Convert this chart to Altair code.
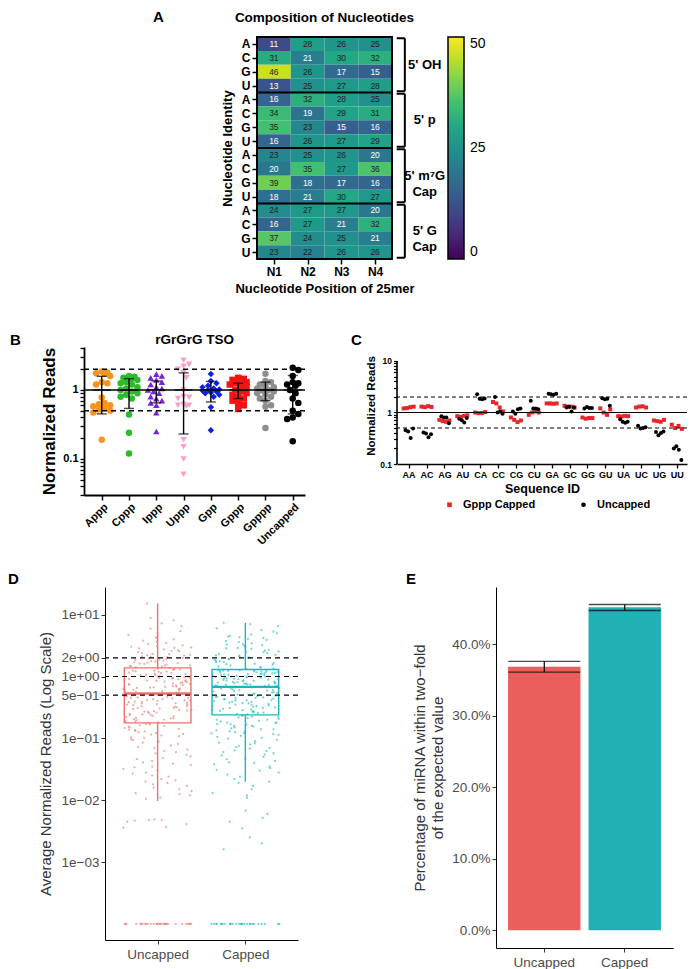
import json
import math
import altair as alt
import pandas as pd

FONT = "Liberation Sans"

# ---------------- Panel A data ----------------
A_GROUPS = ["5' OH", "5' p", "5' m⁷G\nCap", "5' G\nCap"]
A_NUCS = ["A", "C", "G", "U"]
A_POS = ["N1", "N2", "N3", "N4"]
A_OH = [[11, 28, 26, 25], [31, 21, 30, 32], [46, 26, 17, 15], [13, 25, 27, 28]]
A_P = [[16, 32, 28, 25], [34, 19, 29, 31], [35, 23, 15, 16], [16, 26, 27, 29]]
A_M7G = [[23, 25, 26, 20], [20, 35, 27, 36], [39, 18, 17, 16], [18, 21, 30, 27]]
A_GCAP = [[24, 27, 27, 20], [16, 27, 21, 32], [37, 24, 25, 21], [23, 22, 26, 26]]
A_COLOR_DOMAIN = [0, 50]
A_LEGEND_VALUES = [0, 25, 50]

# ---------------- Panel B data ----------------
B_GROUPS = ["Appp", "Cppp", "Ippp", "Uppp", "Gpp", "Gppp", "Gpppp", "Uncapped"]
B_APPP = [1.85, 1.8, 1.75, 1.72, 1.6, 1.3, 1.25, 1.2, 0.78, 0.65, 0.62, 0.6, 0.58, 0.55, 0.52, 0.5, 0.47, 0.19]
B_CPPP = [1.6, 1.55, 1.5, 1.45, 1.4, 1.3, 1.25, 1.2, 1.1, 1.05, 1.0, 0.95, 0.9, 0.85, 0.8, 0.75, 0.44, 0.24, 0.12]
B_IPPP = [1.7, 1.6, 1.5, 1.4, 1.3, 1.2, 1.1, 1.05, 1.0, 0.95, 0.9, 0.8, 0.75, 0.7, 0.65, 0.6, 0.47, 0.25]
B_UPPP = [2.7, 2.35, 2.2, 2.0, 1.8, 1.5, 1.0, 0.8, 0.78, 0.75, 0.62, 0.6, 0.6, 0.58, 0.19, 0.15, 0.1, 0.06]
B_GPP = [1.7, 1.35, 1.25, 1.15, 1.1, 1.05, 1.02, 1.0, 0.98, 0.95, 0.92, 0.9, 0.85, 0.8, 0.56, 0.26]
B_GPPP = [1.5, 1.45, 1.4, 1.35, 1.3, 1.25, 1.2, 1.15, 1.1, 1.0, 0.95, 0.9, 0.85, 0.8, 0.75, 0.7, 0.65, 0.6, 0.53]
B_GPPPP = [1.72, 1.35, 1.3, 1.2, 1.15, 1.1, 1.05, 1.0, 0.98, 0.95, 0.9, 0.85, 0.8, 0.75, 0.7, 0.6, 0.57, 0.28]
B_UNCAP = [2.1, 1.95, 1.6, 1.3, 1.25, 1.2, 1.15, 1.0, 0.9, 0.75, 0.65, 0.5, 0.45, 0.4, 0.38, 0.18]
B_VALUES = [B_APPP, B_CPPP, B_IPPP, B_UPPP, B_GPP, B_GPPP, B_GPPPP, B_UNCAP]
B_MEAN = [1.0, 1.0, 1.0, 1.0, 1.0, 1.0, 1.0, 1.0]
B_LO = [0.45, 0.54, 0.65, 0.23, 0.67, 0.75, 0.7, 0.45]
B_HI = [1.58, 1.46, 1.35, 1.77, 1.33, 1.25, 1.3, 1.62]
B_COLORS = ["#F7941D", "#2DB92D", "#7B22D6", "#F4A3CB", "#0A22E6", "#F01414", "#8E8E8E", "#000000"]
B_SHAPES = ["circle", "circle", "triangle-up", "triangle-down", "diamond", "square", "circle", "circle"]
B_REF_SOLID = [1]
B_REF_DASH = [0.5, 2]
B_YTICKS = [0.03, 0.04, 0.05, 0.06, 0.07, 0.08, 0.09, 0.1, 0.2, 0.3, 0.4, 0.5, 0.6, 0.7, 0.8, 0.9, 1, 2, 3, 4]

# ---------------- Panel C data ----------------
C_SEQS = ["AA", "AC", "AG", "AU", "CA", "CC", "CG", "CU", "GA", "GC", "GG", "GU", "UA", "UC", "UG", "UU"]
C_CAPPED = [[1.2, 1.22, 1.27, 1.3], [1.3, 1.27, 1.33, 1.28], [0.72, 0.68, 0.66, 0.7], [0.85, 0.82, 0.86, 0.88],
            [1.0, 0.97, 0.98, 1.02], [1.6, 1.5, 1.25, 1.05], [0.8, 0.72, 0.65, 0.7], [0.9, 1.0, 1.05, 1.0],
            [1.5, 1.5, 1.48, 1.5], [1.35, 1.3, 1.3, 1.25], [0.8, 0.76, 0.78, 0.78], [1.2, 1.0, 0.9, 1.15],
            [0.85, 0.84, 0.86, 0.85], [1.25, 1.3, 1.32, 1.25], [0.7, 0.68, 0.66, 0.72], [0.58, 0.5, 0.55, 0.48]]
C_UNCAPPED = [[0.45, 0.43, 0.32, 0.49], [0.41, 0.39, 0.33, 0.38], [0.85, 0.8, 0.8, 0.62], [0.76, 0.71, 0.64, 0.78],
              [2.25, 1.85, 1.8, 1.87], [2.0, 1.0, 1.05, 0.95], [1.05, 0.95, 1.15, 1.2], [1.7, 1.2, 1.2, 1.15],
              [2.3, 2.25, 2.2, 2.3], [1.25, 1.3, 1.05, 1.25], [1.2, 1.28, 1.22, 1.22], [1.9, 1.8, 1.85, 1.35],
              [0.74, 0.66, 0.63, 0.66], [0.55, 0.49, 0.5, 0.52], [0.42, 0.36, 0.4, 0.43], [0.2, 0.22, 0.19, 0.12]]
C_SERIES = ["Gppp Capped", "Uncapped"]
C_COLORS = ["#E8262A", "#000000"]
C_SHAPES = ["square", "circle"]
C_REF_SOLID = [1]
C_REF_DASH = [0.5, 2]
C_YTICKS = [0.1, 0.2, 0.3, 0.4, 0.5, 0.6, 0.7, 0.8, 0.9, 1, 2, 3, 4, 5, 6, 7, 8, 9, 10]

# ---------------- Panel D data ----------------
D_GROUPS = ["Uncapped", "Capped"]
D_COLORS = ["#F0716B", "#13B9BC"]
D_Q1 = [0.178, 0.24]
D_MED = [0.53, 0.68]
D_Q3 = [1.38, 1.30]
D_LO = [0.0097, 0.020]
D_HI = [15.2, 7.4]
D_ZERO_VALUE = 0.0001
D_ZERO_COUNT = [30, 28]
D_UNCAPPED = [
    0.0036, 0.0041, 0.0045, 0.0048, 0.0048, 0.0049, 0.0037, 0.0047,
    0.0105, 0.011, 0.012, 0.0125, 0.013, 0.014, 0.015, 0.016, 0.017, 0.018, 0.019, 0.02, 0.021, 0.022,
    0.024, 0.025, 0.027, 0.028, 0.03, 0.032, 0.034, 0.035, 0.037, 0.039, 0.041, 0.043, 0.046, 0.048,
    0.051, 0.054, 0.057, 0.06, 0.063, 0.066, 0.07, 0.073, 0.077, 0.081, 0.085, 0.089, 0.093, 0.097,
    0.101, 0.104, 0.108, 0.111, 0.115, 0.118, 0.122, 0.125, 0.129, 0.132, 0.136, 0.139, 0.143, 0.147,
    0.151, 0.155, 0.159, 0.163, 0.167, 0.171, 0.175,
    0.181, 0.186, 0.19, 0.195, 0.2, 0.205, 0.21, 0.215, 0.22, 0.226, 0.232, 0.238, 0.244, 0.25, 0.256,
    0.262, 0.268, 0.275, 0.282, 0.289, 0.296, 0.303, 0.31, 0.318, 0.326, 0.334, 0.342, 0.35, 0.358,
    0.366, 0.375, 0.384, 0.393, 0.402, 0.411, 0.42, 0.43, 0.44, 0.45, 0.46, 0.47, 0.48, 0.49, 0.5,
    0.51, 0.52, 0.527, 0.24, 0.29, 0.33, 0.37, 0.41, 0.45, 0.49, 0.21, 0.27, 0.31, 0.35, 0.39, 0.43,
    0.54, 0.55, 0.565, 0.58, 0.595, 0.61, 0.625, 0.64, 0.655, 0.67, 0.69, 0.71, 0.73, 0.75, 0.77, 0.79,
    0.81, 0.83, 0.85, 0.87, 0.89, 0.91, 0.93, 0.95, 0.97, 0.99, 1.01, 1.04, 1.07, 1.1, 1.13, 1.16, 1.19,
    1.22, 1.25, 1.28, 1.31, 1.34, 1.37, 0.6, 0.7, 0.8, 0.9, 1.0, 1.2, 0.57, 0.66, 0.76, 0.86, 0.96,
    1.06, 1.15, 1.3, 0.63, 0.74, 0.84, 0.94, 1.11, 1.24, 0.68,
    1.4, 1.44, 1.48, 1.52, 1.56, 1.6, 1.65, 1.7, 1.75, 1.8, 1.85, 1.9, 1.95, 2.0, 2.06, 2.12, 2.18,
    2.25, 2.32, 2.4, 2.48, 2.56, 2.65, 2.75, 2.85, 2.95, 3.05, 3.2, 3.35, 3.5, 3.65, 3.8, 4.0, 4.2,
    4.4, 4.7, 5.0, 5.4, 5.9, 6.5, 7.2, 8.1, 8.8, 15.2, 1.5, 1.62, 1.78, 1.92, 2.08, 2.3, 2.6, 3.1,
    1.46, 1.68, 2.2, 2.9,
]
D_CAPPED = [
    0.0016, 0.002, 0.0025, 0.0035, 0.0045, 0.006, 0.0052, 0.0068,
    0.011, 0.012, 0.013, 0.015, 0.017, 0.019, 0.02, 0.022, 0.024, 0.026, 0.028, 0.03, 0.033, 0.035,
    0.038, 0.04, 0.043, 0.046, 0.05, 0.053, 0.057, 0.06, 0.064, 0.068, 0.072, 0.076, 0.08, 0.085, 0.09,
    0.095, 0.099, 0.041, 0.055, 0.07, 0.083, 0.031, 0.047, 0.062,
    0.102, 0.106, 0.11, 0.114, 0.118, 0.122, 0.126, 0.13, 0.135, 0.14, 0.145, 0.15, 0.155, 0.16, 0.165,
    0.17, 0.176, 0.182, 0.188, 0.194, 0.2, 0.206, 0.212, 0.218, 0.224, 0.23, 0.236, 0.12, 0.14, 0.16,
    0.18, 0.2, 0.22, 0.13, 0.17,
    0.245, 0.25, 0.255, 0.26, 0.266, 0.272, 0.278, 0.285, 0.292, 0.3, 0.308, 0.316, 0.324, 0.332, 0.34,
    0.35, 0.36, 0.37, 0.38, 0.39, 0.4, 0.41, 0.42, 0.43, 0.44, 0.45, 0.46, 0.47, 0.48, 0.49, 0.5, 0.51,
    0.52, 0.53, 0.545, 0.56, 0.575, 0.59, 0.605, 0.62, 0.635, 0.65, 0.665, 0.675, 0.27, 0.31, 0.35,
    0.39, 0.43, 0.47, 0.51, 0.55, 0.6, 0.64, 0.29, 0.33, 0.37, 0.41, 0.45, 0.58,
    0.69, 0.7, 0.71, 0.72, 0.735, 0.75, 0.765, 0.78, 0.795, 0.81, 0.825, 0.84, 0.86, 0.88, 0.9, 0.92,
    0.94, 0.96, 0.98, 1.0, 1.02, 1.04, 1.06, 1.08, 1.1, 1.12, 1.14, 1.16, 1.18, 1.2, 1.22, 1.24, 1.26,
    1.28, 1.29, 0.73, 0.77, 0.82, 0.87, 0.93, 0.99, 1.05, 1.11, 1.17, 1.23, 0.7, 0.76, 0.85, 0.95,
    1.03, 1.13, 1.21, 0.79, 0.89, 1.0, 1.09, 1.19, 0.74, 0.91, 1.27,
    1.32, 1.36, 1.4, 1.45, 1.5, 1.55, 1.6, 1.65, 1.7, 1.75, 1.8, 1.86, 1.92, 1.98, 2.04, 2.1, 2.17,
    2.24, 2.31, 2.38, 2.46, 2.54, 2.62, 2.7, 2.8, 2.9, 3.0, 3.1, 3.2, 3.3, 3.45, 3.6, 3.75, 3.9, 4.05,
    4.2, 4.4, 4.6, 4.8, 5.0, 5.3, 5.6, 6.0, 6.5, 7.0, 7.4, 1.42, 1.58, 1.72, 1.9, 2.2, 2.5, 2.85, 3.35,
    4.3,
]
D_VALUES = [D_UNCAPPED, D_CAPPED]
D_REFS = [0.5, 1, 2]
D_YTICKS = [0.001, 0.01, 0.1, 0.5, 1, 2, 10]
D_YLABELS = ["1e\u221203", "1e\u221202", "1e\u221201", "5e\u221201", "1e+00", "2e+00", "1e+01"]

# ---------------- Panel E data ----------------
E_GROUPS = ["Uncapped", "Capped"]
E_PCT = [0.3683, 0.4517]
E_LO = [0.3608, 0.4471]
E_HI = [0.3760, 0.4555]
E_COLORS = ["#EA5F5C", "#21B1B4"]
E_YTICKS = [0, 0.1, 0.2, 0.3, 0.4]

# ======================================================================
one = pd.DataFrame({"k": [0]})
ALL_TICKS = 1000  # keep every listed tick value


def label_text(txt, dx, dy, size=15, align="left", opacity=1):
    return alt.Chart(one).mark_text(
        text=txt, font=FONT, fontSize=size, fontWeight="bold", align=align, baseline="alphabetic",
        color="black", opacity=opacity
    ).encode(x=alt.value(dx), y=alt.value(dy))


def spacer(w, h=1):
    return alt.Chart(one).mark_point(opacity=0).encode(
        x=alt.X("k:Q", axis=None), y=alt.Y("k:Q", axis=None)
    ).properties(width=w, height=h)


# ---------------- Panel A ----------------
A_W, A_H = 135, 222
ax = alt.Scale(domain=[0, 4], nice=False, zero=False)
ay = alt.Scale(domain=[0, 16], nice=False, zero=False, reverse=True)
heat_rows = []
for g, mat in enumerate([A_OH, A_P, A_M7G, A_GCAP]):
    for n, vals in enumerate(mat):
        for c, v in enumerate(vals):
            r = g * 4 + n
            heat_rows.append({"c": c, "c2": c + 1, "cm": c + 0.5, "r": r, "r2": r + 1, "rm": r + 0.5, "v": v})
heat_df = pd.DataFrame(heat_rows)

a_rect = alt.Chart(heat_df).mark_rect().encode(
    x=alt.X("c:Q", scale=ax, axis=alt.Axis(
        values=[i + 0.5 for i in range(4)], labelExpr=f"{json.dumps(A_POS)}[floor(datum.value)]",
        tickCount=ALL_TICKS, title="Nucleotide Position of 25mer", titleFont=FONT, titleFontSize=13,
        titleFontWeight="bold", labelFont=FONT, labelFontSize=12, labelFontWeight="bold", labelColor="black",
        domain=False, labelOverlap=False, labelFlush=False, tickSize=5, tickWidth=1.5, tickColor="black",
        labelPadding=2, titlePadding=5, titleColor="black")),
    x2="c2:Q",
    y=alt.Y("r:Q", scale=ay, axis=alt.Axis(
        values=[i + 0.5 for i in range(16)], labelExpr=f"{json.dumps(A_NUCS)}[floor(datum.value) % 4]",
        tickCount=ALL_TICKS, title="Nucleotide Identity", titleFont=FONT, titleFontSize=13,
        titleFontWeight="bold", labelFont=FONT, labelFontSize=12, labelFontWeight="bold", labelColor="black",
        domain=False, labelOverlap=False, labelFlush=False, tickSize=5, tickWidth=1.5, tickColor="black",
        labelPadding=2, titlePadding=6, titleColor="black")),
    y2="r2:Q",
    color=alt.Color("v:Q", scale=alt.Scale(scheme="viridis", domain=A_COLOR_DOMAIN), legend=alt.Legend(
        orient="none", legendX=191, legendY=0, title=None, direction="vertical", gradientLength=A_H,
        gradientThickness=16, values=A_LEGEND_VALUES, labelFont=FONT, labelFontSize=14, labelColor="black",
        gradientStrokeColor="black", gradientStrokeWidth=1.5, labelOffset=6)),
)
a_text = alt.Chart(heat_df).mark_text(font=FONT, fontSize=8.5).encode(
    x=alt.X("cm:Q", scale=ax),
    y=alt.Y("rm:Q", scale=ay),
    text="v:Q",
    color=alt.condition("datum.v < 22", alt.value("white"), alt.value("#1f1f1f")),
)
a_sep = alt.Chart(pd.DataFrame({"y": [4, 8, 12]})).mark_rule(color="black", strokeWidth=2).encode(
    y=alt.Y("y:Q", scale=ay))
a_frame = alt.Chart(pd.DataFrame({"x": [0], "x2": [4], "y": [0], "y2": [16]})).mark_rect(
    filled=False, color="black", strokeWidth=2).encode(
    x=alt.X("x:Q", scale=ax), x2="x2:Q", y=alt.Y("y:Q", scale=ay), y2="y2:Q")
br_rows = []
lab_rows = []
for g in range(4):
    top, bot = g * 4 + 0.09, g * 4 + 3.91
    br_rows += [{"x": 4.38, "x2": 4.38, "y": top, "y2": bot},
                {"x": 4.14, "x2": 4.38, "y": top, "y2": top},
                {"x": 4.14, "x2": 4.38, "y": bot, "y2": bot}]
    lab_rows.append({"x": 4.97, "y": g * 4 + 2, "t": A_GROUPS[g]})
a_br = alt.Chart(pd.DataFrame(br_rows)).mark_rule(color="black", strokeWidth=2).encode(
    x=alt.X("x:Q", scale=ax), x2="x2:Q", y=alt.Y("y:Q", scale=ay), y2="y2:Q")
a_lab = alt.Chart(pd.DataFrame(lab_rows)).mark_text(
    font=FONT, fontSize=13, fontWeight="bold", lineBreak="\n", lineHeight=16, color="black").encode(
    x=alt.X("x:Q", scale=ax), y=alt.Y("y:Q", scale=ay), text="t:N")

panel_a = alt.layer(
    a_rect, a_text, a_sep, a_frame, a_br, a_lab,
    label_text("A", -104, -15),
    label_text("Composition of Nucleotides", A_W / 2, -15, size=13.5, align="center"),
    label_text("A", 0, A_H + 46, opacity=0),
).properties(width=A_W, height=A_H)

# ---------------- Panel B ----------------
B_W, B_H = 221, 148
B_XDOMAIN = [-0.65, 7.45]
B_YDOMAIN = [0.03, 4.2]
bx = alt.Scale(domain=B_XDOMAIN, nice=False, zero=False)
by = alt.Scale(type="log", domain=B_YDOMAIN, nice=False)
b_pxdec = B_H / math.log10(B_YDOMAIN[1] / B_YDOMAIN[0])
b_pxunit = B_W / (B_XDOMAIN[1] - B_XDOMAIN[0])


def swarm(vals, pxdec, diam, step, maxoff):
    cands = [0.0]
    k = 1
    while k * step <= maxoff + 1e-9:
        cands += [k * step, -k * step]
        k += 1
    placed, out = [], []
    for v in vals:
        yp = math.log10(v) * pxdec
        best, bestd = 0.0, -1.0
        for o in cands:
            d = min([math.hypot(o - po, yp - py) for po, py in placed], default=1e9)
            if d >= diam:
                best = o
                break
            if d > bestd:
                best, bestd = o, d
        placed.append((best, yp))
        out.append(best)
    return out


b_rows = []
for i, vals in enumerate(B_VALUES):
    offs = swarm(vals, b_pxdec, 5.5, 2.8, 9)
    for v, o in zip(vals, offs):
        b_rows.append({"grp": B_GROUPS[i], "x": i + o / b_pxunit, "v": v})
b_df = pd.DataFrame(b_rows)
b_stats = pd.DataFrame({"i": list(range(len(B_GROUPS))), "mean": B_MEAN, "lo": B_LO, "hi": B_HI})

b_xaxis = alt.Axis(values=list(range(len(B_GROUPS))), labelExpr=f"{json.dumps(B_GROUPS)}[round(datum.value)]",
                   tickCount=ALL_TICKS, labelAngle=-45, labelAlign="right", labelBaseline="top", labelFont=FONT,
                   labelFontSize=11, labelFontWeight="bold", labelColor="black", labelOverlap=False,
                   labelFlush=False, tickSize=5, tickWidth=1.5, domainWidth=1.8, domainColor="black",
                   tickColor="black", title=None, labelPadding=1)
b_yaxis = alt.Axis(values=B_YTICKS, labelExpr="datum.value == 0.1 ? '0.1' : datum.value == 1 ? '1' : ''",
                   tickCount=ALL_TICKS, labelFont=FONT, labelFontSize=11, labelFontWeight="bold",
                   labelColor="black", tickSize=4, labelOverlap=False, tickWidth=1.3, domainWidth=1.8,
                   domainColor="black", tickColor="black", title="Normalized Reads", titleFont=FONT,
                   titleFontSize=17, titleFontWeight="bold", titleColor="black", titlePadding=4)

b_pts = alt.Chart(b_df).mark_point(filled=True, size=42, opacity=1).encode(
    x=alt.X("x:Q", scale=bx, axis=b_xaxis),
    y=alt.Y("v:Q", scale=by, axis=b_yaxis),
    color=alt.Color("grp:N", scale=alt.Scale(domain=B_GROUPS, range=B_COLORS), legend=None),
    shape=alt.Shape("grp:N", scale=alt.Scale(domain=B_GROUPS, range=B_SHAPES), legend=None),
)
b_ref1 = alt.Chart(pd.DataFrame({"y": B_REF_SOLID})).mark_rule(color="black", strokeWidth=1.5).encode(
    y=alt.Y("y:Q", scale=by))
b_ref2 = alt.Chart(pd.DataFrame({"y": B_REF_DASH})).mark_rule(color="black", strokeWidth=1.5,
                                                              strokeDash=[5, 4]).encode(
    y=alt.Y("y:Q", scale=by))
b_err = alt.Chart(b_stats).mark_rule(color="black", strokeWidth=1.4).encode(
    x=alt.X("i:Q", scale=bx), y=alt.Y("lo:Q", scale=by), y2="hi:Q")
b_caps = alt.Chart(b_stats).transform_fold(["lo", "hi"], as_=["end", "val"]).mark_tick(
    orient="horizontal", size=10, thickness=1.4, color="black").encode(
    x=alt.X("i:Q", scale=bx), y=alt.Y("val:Q", scale=by))
b_mean = alt.Chart(b_stats).mark_tick(orient="horizontal", size=18, thickness=1.6, color="black").encode(
    x=alt.X("i:Q", scale=bx), y=alt.Y("mean:Q", scale=by))

panel_b = alt.layer(
    b_pts, b_ref2, b_ref1, b_err, b_caps, b_mean,
    label_text("B", -74, -2),
    label_text("rGrGrG TSO", B_W / 2, -3, size=13.5, align="center"),
).properties(width=B_W, height=B_H)

# ---------------- Panel C ----------------
C_W, C_H = 290, 117
C_XDOMAIN = [-0.65, 15.57]
C_YDOMAIN = [0.1, 18.7]
C_AXIS_RANGE = [0.1, 10]
cx = alt.Scale(domain=C_XDOMAIN, nice=False, zero=False)
cy = alt.Scale(type="log", domain=C_YDOMAIN, nice=False)
c_pxunit = C_W / (C_XDOMAIN[1] - C_XDOMAIN[0])
C_OFFS = {"Gppp Capped": [-5, -1.7, 1.7, 5], "Uncapped": [-3, -0.5, 2, 4.5]}
c_rows = []
for i, s in enumerate(C_SEQS):
    for ser, vals in zip(C_SERIES, [C_CAPPED[i], C_UNCAPPED[i]]):
        for j, v in enumerate(vals):
            c_rows.append({"seq": s, "ser": ser, "x": i + C_OFFS[ser][j] / c_pxunit, "v": v})
c_df = pd.DataFrame(c_rows)

c_xaxis = alt.Axis(values=list(range(len(C_SEQS))), labelExpr=f"{json.dumps(C_SEQS)}[round(datum.value)]",
                   tickCount=ALL_TICKS, labelAngle=0, labelFont=FONT, labelFontSize=9, labelFontWeight="bold",
                   labelColor="black", labelOverlap=False, labelFlush=False, tickSize=4, tickWidth=1.3,
                   domainWidth=1.6, domainColor="black", tickColor="black", title="Sequence ID",
                   titleFont=FONT, titleFontSize=12.5, titleFontWeight="bold", titleColor="black",
                   titlePadding=3, labelPadding=2)
c_yaxis = alt.Axis(values=C_YTICKS,
                   labelExpr="datum.value == 0.1 ? '0.1' : datum.value == 1 ? '1' : datum.value == 10 ? '10' : ''",
                   tickCount=ALL_TICKS, labelFont=FONT, labelFontSize=8.5, labelFontWeight="bold",
                   labelColor="black", tickSize=3.5, labelOverlap=False, tickWidth=1.2, domain=False,
                   tickColor="black", title="Normalized Reads", titleFont=FONT, titleFontSize=11.5,
                   titleFontWeight="bold", titleColor="black", titlePadding=3, labelPadding=2)
c_pts = alt.Chart(c_df).mark_point(filled=True, size=16, opacity=1).encode(
    x=alt.X("x:Q", scale=cx, axis=c_xaxis),
    y=alt.Y("v:Q", scale=cy, axis=c_yaxis),
    color=alt.Color("ser:N", scale=alt.Scale(domain=C_SERIES, range=C_COLORS), legend=alt.Legend(
        orient="none", legendX=47, legendY=152, direction="horizontal", title=None, columnPadding=42,
        labelFont=FONT, labelFontSize=11, labelFontWeight="bold", labelColor="black", symbolSize=22,
        labelOffset=8)),
    shape=alt.Shape("ser:N", scale=alt.Scale(domain=C_SERIES, range=C_SHAPES)),
)
c_axisline = alt.Chart(pd.DataFrame({"x": [C_XDOMAIN[0]], "y": [C_AXIS_RANGE[0]], "y2": [C_AXIS_RANGE[1]]})
                       ).mark_rule(color="black", strokeWidth=1.6).encode(
    x=alt.X("x:Q", scale=cx), y=alt.Y("y:Q", scale=cy), y2="y2:Q")
c_ref1 = alt.Chart(pd.DataFrame({"y": C_REF_SOLID})).mark_rule(color="black", strokeWidth=1.2).encode(
    y=alt.Y("y:Q", scale=cy))
c_ref2 = alt.Chart(pd.DataFrame({"y": C_REF_DASH})).mark_rule(color="black", strokeWidth=1.2,
                                                              strokeDash=[4, 3]).encode(
    y=alt.Y("y:Q", scale=cy))
panel_c = alt.layer(c_pts, c_ref1, c_ref2, c_axisline, label_text("C", -46, -2)).properties(
    width=C_W, height=C_H)

# ---------------- Panel D ----------------
D_W, D_H = 193, 353
dxs = alt.Scale(domain=[0.4, 2.6], nice=False, zero=False)
dys = alt.Scale(type="log", domain=[5.5e-5, 28], nice=False)


def jit(i, g):
    s = math.sin(i * 12.9898 + g * 78.233) * 43758.5453
    return s - math.floor(s)


d_rows = []
for g, vals in enumerate(D_VALUES):
    allv = vals + [D_ZERO_VALUE] * D_ZERO_COUNT[g]
    for i, v in enumerate(allv):
        d_rows.append({"grp": D_GROUPS[g], "x": g + 1 + (jit(i, g) - 0.5) * 0.78, "v": v})
d_df = pd.DataFrame(d_rows)
d_stats = pd.DataFrame({"grp": D_GROUPS, "c": [1, 2], "l": [0.62, 1.62], "r": [1.38, 2.38],
                        "q1": D_Q1, "med": D_MED, "q3": D_Q3, "lo": D_LO, "hi": D_HI})
d_color = alt.Color("grp:N", scale=alt.Scale(domain=D_GROUPS, range=D_COLORS), legend=None)
d_xaxis = alt.Axis(values=[1, 2], labelExpr=f"{json.dumps(D_GROUPS)}[round(datum.value) - 1]", title=None,
                   tickCount=ALL_TICKS, labelFont=FONT, labelFontSize=13.5, labelColor="#4D4D4D", tickSize=4,
                   tickColor="#333333", domainColor="black", labelPadding=3, labelFlush=False)
d_yaxis = alt.Axis(values=D_YTICKS, labelExpr=f"{json.dumps(D_YLABELS)}[indexof({json.dumps(D_YTICKS)}, datum.value)]",
                   tickCount=ALL_TICKS, labelFont=FONT, labelFontSize=13.5, labelColor="#4D4D4D", tickSize=4,
                   tickColor="#333333", labelOverlap=False, domainColor="black",
                   title="Average Normalized Reads (Log Scale)", titleFont=FONT, titleFontSize=15,
                   titleFontWeight="normal", titleColor="#333333", titlePadding=8)
d_pts = alt.Chart(d_df).mark_circle(size=5, opacity=0.6).encode(
    x=alt.X("x:Q", scale=dxs, axis=d_xaxis), y=alt.Y("v:Q", scale=dys, axis=d_yaxis), color=d_color)
d_box = alt.Chart(d_stats).mark_rect(filled=False, strokeWidth=1.4).encode(
    x=alt.X("l:Q", scale=dxs), x2="r:Q", y=alt.Y("q1:Q", scale=dys), y2="q3:Q",
    stroke=alt.Stroke("grp:N", scale=alt.Scale(domain=D_GROUPS, range=D_COLORS), legend=None))
d_med = alt.Chart(d_stats).mark_rule(strokeWidth=2.4).encode(
    x=alt.X("l:Q", scale=dxs), x2="r:Q", y=alt.Y("med:Q", scale=dys), color=d_color)
d_wlo = alt.Chart(d_stats).mark_rule(strokeWidth=1.4).encode(
    x=alt.X("c:Q", scale=dxs), y=alt.Y("lo:Q", scale=dys), y2="q1:Q", color=d_color)
d_whi = alt.Chart(d_stats).mark_rule(strokeWidth=1.4).encode(
    x=alt.X("c:Q", scale=dxs), y=alt.Y("q3:Q", scale=dys), y2="hi:Q", color=d_color)
d_ref = alt.Chart(pd.DataFrame({"y": D_REFS})).mark_rule(color="black", strokeWidth=1.2,
                                                         strokeDash=[5, 4]).encode(
    y=alt.Y("y:Q", scale=dys))
panel_d = alt.layer(d_pts, d_box, d_med, d_wlo, d_whi, d_ref, label_text("D", -97, -3)).properties(
    width=D_W, height=D_H)

# ---------------- Panel E ----------------
E_W, E_H = 177, 361
e_df = pd.DataFrame({"grp": E_GROUPS, "pct": E_PCT, "base": [0, 0], "lo": E_LO, "hi": E_HI})
exs = alt.Scale(domain=E_GROUPS, paddingInner=0.1, paddingOuter=0.15)
eys = alt.Scale(domain=[-0.025, 0.48], nice=False, zero=False)
e_xaxis = alt.Axis(title=None, labelAngle=0, labelFont=FONT, labelFontSize=13.5, labelColor="#4D4D4D",
                   tickSize=4, tickColor="#333333", domainColor="black", labelPadding=3)
e_yaxis = alt.Axis(values=E_YTICKS, format=".1%", tickCount=ALL_TICKS, labelFont=FONT, labelFontSize=13.5,
                   labelColor="#4D4D4D", tickSize=4, tickColor="#333333", domainColor="black",
                   title=["Percentage of miRNA within two\u2212fold", "of the expected value"], titleFont=FONT,
                   titleFontSize=15, titleFontWeight="normal", titleColor="#333333", titlePadding=6,
                   titleLineHeight=18)
e_bar = alt.Chart(e_df).mark_bar().encode(
    x=alt.X("grp:N", scale=exs, sort=E_GROUPS, axis=e_xaxis),
    y=alt.Y("pct:Q", scale=eys, axis=e_yaxis), y2="base:Q",
    color=alt.Color("grp:N", scale=alt.Scale(domain=E_GROUPS, range=E_COLORS), legend=None))
e_err = alt.Chart(e_df).mark_rule(color="black", strokeWidth=1.2).encode(
    x=alt.X("grp:N", scale=exs, sort=E_GROUPS), y=alt.Y("lo:Q", scale=eys), y2="hi:Q")
e_caps = alt.Chart(e_df).transform_fold(["lo", "hi"], as_=["end", "val"]).mark_tick(
    size=72, thickness=1.3, color="black").encode(
    x=alt.X("grp:N", scale=exs, sort=E_GROUPS), y=alt.Y("val:Q", scale=eys))
panel_e = alt.layer(e_bar, e_err, e_caps, label_text("E", -90, -3)).properties(width=E_W, height=E_H)

# ---------------- Layout ----------------
IND = dict(color="independent", shape="independent", stroke="independent")
row1 = alt.hconcat(spacer(173), panel_a, spacing=0, bounds="flush").resolve_scale(**IND).resolve_legend(**IND)
row2 = alt.hconcat(panel_b, spacer(92), panel_c, spacing=0, bounds="flush").resolve_scale(**IND).resolve_legend(**IND)
row3 = alt.hconcat(spacer(21), panel_d, spacer(198), panel_e, spacing=0, bounds="flush").resolve_scale(
    **IND).resolve_legend(**IND)

chart = alt.vconcat(row1, row2, row3, spacing=25).resolve_scale(**IND).resolve_legend(**IND).properties(
    padding={"top": 2, "left": 0, "right": 0, "bottom": 0}
).configure(font=FONT).configure_view(stroke=None).configure_axis(grid=False)

chart.save("out.html", embed_options={"renderer": "svg", "actions": False})
